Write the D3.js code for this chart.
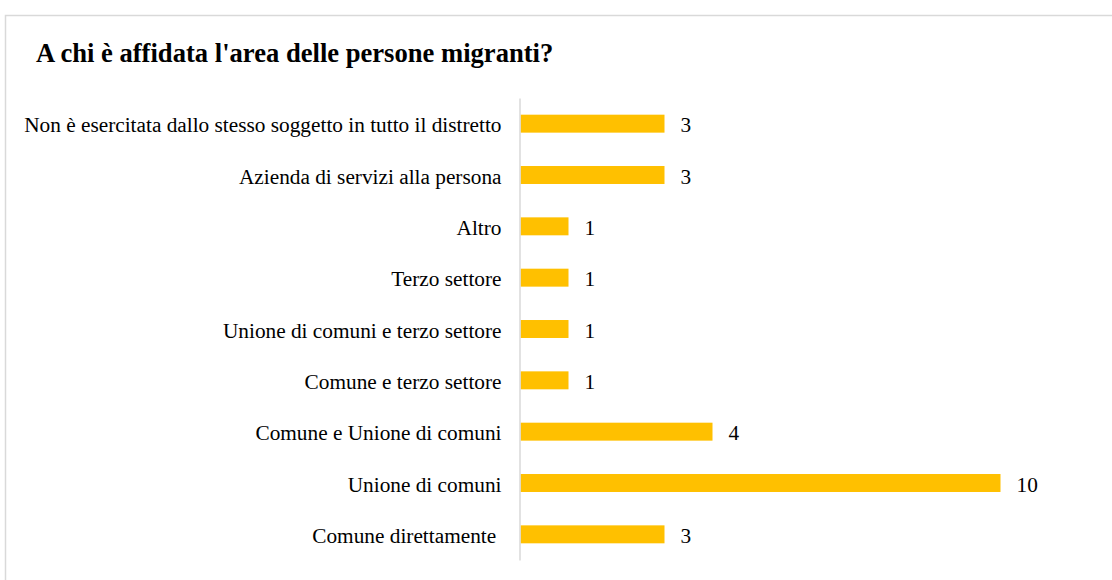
<!DOCTYPE html>
<html>
<head>
<meta charset="utf-8">
<script src="https://cdn.jsdelivr.net/npm/d3@7"></script>
<style>
  html, body { margin: 0; padding: 0; background: #fff; }
  svg { display: block; }
  text { font-family: "Liberation Serif", "Times New Roman", serif; }
</style>
</head>
<body>
<svg id="chart" width="1112" height="580"></svg>
<script>
// Categories, top to bottom
const categories = [
  "Non è esercitata dallo stesso soggetto in tutto il distretto",
  "Azienda di servizi alla persona",
  "Altro",
  "Terzo settore",
  "Unione di comuni e terzo settore",
  "Comune e terzo settore",
  "Comune e Unione di comuni",
  "Unione di comuni",
  "Comune direttamente "
];
const values = [3, 3, 1, 1, 1, 1, 4, 10, 3];
const title = "A chi è affidata l'area delle persone migranti?";

const svg = d3.select("#chart");

// Outer frame
svg.append("rect")
  .attr("x", 5.5).attr("y", 15.5)
  .attr("width", 1120).attr("height", 580)
  .attr("fill", "#fff")
  .attr("stroke", "#d9d9d9")
  .attr("stroke-width", 1.5);

// Title
svg.append("text")
  .attr("x", 36).attr("y", 62)
  .attr("font-size", 26.6)
  .attr("font-weight", "bold")
  .attr("fill", "#000")
  .text(title);

const x = d3.scaleLinear().domain([0, 10]).range([520.5, 1000.5]);
const y = d3.scaleBand().domain(categories).range([98, 560]).paddingInner(0.65).paddingOuter(0.325);

// Bars
svg.append("g").selectAll("rect")
  .data(values)
  .join("rect")
  .attr("x", x(0))
  .attr("y", (d, i) => y(categories[i]))
  .attr("width", d => x(d) - x(0))
  .attr("height", y.bandwidth())
  .attr("fill", "#ffc000");

// Vertical category axis
const axis = d3.axisLeft(y).tickSize(0).tickPadding(18);
const gAxis = svg.append("g")
  .attr("transform", `translate(${x(0) - 1},0)`)
  .call(axis);
gAxis.select(".domain").attr("stroke", "#d9d9d9").attr("stroke-width", 1.5);
gAxis.selectAll("text")
  .attr("font-size", 21.3)
  .attr("dy", "0.4em")
  .attr("fill", "#000")
  .style("font-family", '"Liberation Serif", "Times New Roman", serif')
  .style("white-space", "pre");

// Value labels
svg.append("g").selectAll("text")
  .data(values)
  .join("text")
  .attr("x", d => x(d) + 16)
  .attr("y", (d, i) => y(categories[i]) + y.bandwidth() / 2)
  .attr("dy", "0.4em")
  .attr("font-size", 21.3)
  .attr("fill", "#000")
  .text(d => d);
</script>
</body>
</html>
